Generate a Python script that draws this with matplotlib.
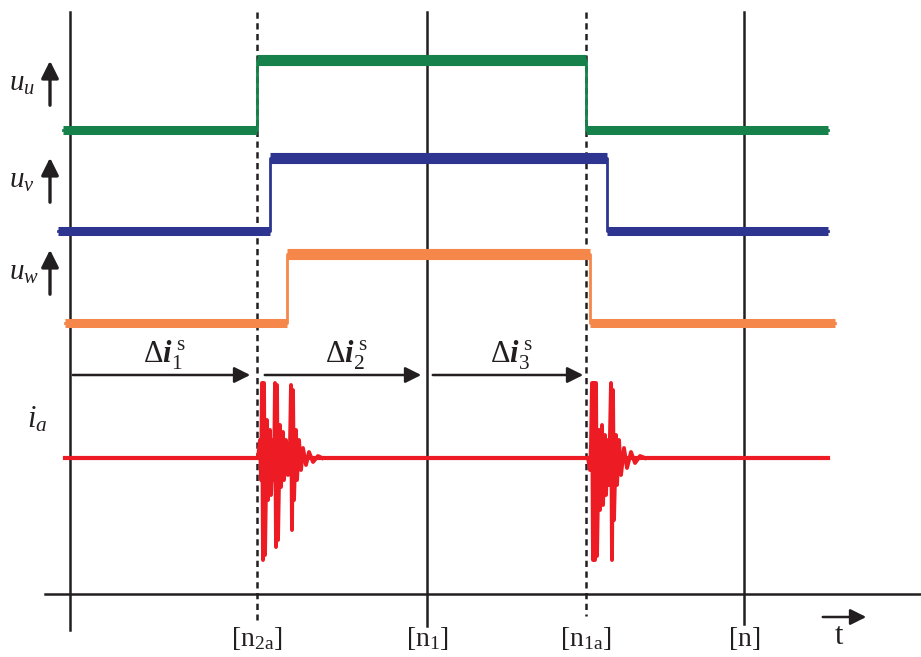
import matplotlib.pyplot as plt
import numpy as np

plt.rcParams['font.family'] = ['Liberation Serif', 'DejaVu Serif']
plt.rcParams['mathtext.fontset'] = 'custom'
plt.rcParams['mathtext.rm'] = 'Liberation Serif'
plt.rcParams['mathtext.it'] = 'Liberation Serif:italic'
plt.rcParams['mathtext.bf'] = 'Liberation Serif:bold:italic'

# phase voltages u, v, w: start, switch-on, switch-off, end time and low / high level
phase_names = ['u', 'v', 'w']
phase_colors = ['#16814a', '#2d3590', '#f5874a']
phase_start = [63, 58, 65]
phase_on = [257, 270, 287]
phase_off = [586, 607, 590]
phase_end = [828, 828, 835]
phase_low = [130, 231, 323]
phase_high = [60, 158, 254]

# phase current i_a: baseline and the two ringing bursts after switching
ia_start, ia_end, ia_level = 65, 828, 458
burst1_t = [258, 260, 261, 262, 263, 264, 265, 267, 268, 270, 271, 273, 274, 275, 276, 277,
            278, 280, 281, 283, 284, 286, 288, 290, 291, 292, 293, 294, 296, 297, 299, 301,
            303, 306, 309, 313, 318, 322]
burst1_v = [458, 440, 480, 383, 560, 383, 555, 420, 500, 430, 495, 440, 480, 383, 547, 385,
            540, 425, 487, 432, 480, 440, 475, 445, 385, 530, 390, 500, 430, 480, 440, 470,
            448, 465, 452, 462, 456, 458]
burst2_t = [588, 590, 591, 592, 593, 594, 595, 596, 597, 599, 600, 602, 603, 605, 606, 608,
            609, 611, 612, 613, 614, 616, 617, 619, 621, 624, 627, 631, 635, 640, 645]
burst2_v = [458, 470, 445, 383, 560, 383, 560, 383, 556, 430, 510, 425, 505, 435, 495, 440,
            485, 383, 560, 390, 520, 435, 485, 440, 475, 448, 468, 452, 463, 456, 458]

# sampling instants on the time axis
solid_t = [70, 427, 744]
dashed_t = [257, 586]
sample_labels = {257: r'$[\mathrm{n}_{2\mathrm{a}}]$', 427: r'$[\mathrm{n}_{1}]$',
                 586: r'$[\mathrm{n}_{1\mathrm{a}}]$', 744: r'$[\mathrm{n}]$'}
delta_spans = [(70, 253), (262, 424), (430, 586)]

ink = '#231f20'

fig = plt.figure(figsize=(9.21, 6.57), dpi=100)
ax = fig.add_axes([0, 0, 1, 1])
ax.set_xlim(0, 921)
ax.set_ylim(657, 0)
ax.axis('off')

# vertical sampling lines
line_bottom = {70: 630, 427: 626, 744: 624, 257: 620, 586: 616}
for t in solid_t:
    ax.plot([t, t], [12, line_bottom[t]], color=ink, lw=1.8, zorder=1)
for t in dashed_t:
    ax.plot([t, t], [12, line_bottom[t]], color=ink, lw=1.8, ls=(0, (2.5, 1.8)), zorder=1)

# time axis
ax.plot([45, 921], [594, 594], color=ink, lw=1.8)
ax.annotate('', xy=(869, 617), xytext=(820, 617),
            arrowprops=dict(arrowstyle='-|>', color=ink, lw=1.8, mutation_scale=24))
ax.text(839, 636, 't', fontsize=22, ha='center', va='center', color=ink)
for t, lab in sample_labels.items():
    ax.text(t, 639, lab, fontsize=20, ha='center', va='center', color=ink)

# phase voltage steps
for i in range(3):
    tt = [phase_start[i], phase_on[i], phase_on[i], phase_off[i], phase_off[i], phase_end[i]]
    vv = [phase_low[i], phase_low[i], phase_high[i], phase_high[i], phase_low[i], phase_low[i]]
    ax.plot(tt, vv, color=phase_colors[i], lw=2.0, zorder=3)
    ax.plot([phase_start[i], phase_on[i]], [phase_low[i]] * 2, color=phase_colors[i], lw=6.5,
            solid_capstyle='butt', zorder=3)
    ax.plot([phase_on[i], phase_off[i]], [phase_high[i]] * 2, color=phase_colors[i], lw=8,
            solid_capstyle='butt', zorder=3)
    ax.plot([phase_off[i], phase_end[i]], [phase_low[i]] * 2, color=phase_colors[i], lw=6.5,
            solid_capstyle='butt', zorder=3)
    # label with up arrow
    top = phase_high[i] - 2 if i == 0 else phase_low[i] - 76
    ax.annotate('', xy=(50, top), xytext=(50, top + 50),
                arrowprops=dict(arrowstyle='-|>', color=ink, lw=2.4, mutation_scale=26))
    ax.text(9, top + 26, r'$u_{%s}$' % phase_names[i], fontsize=21, ha='left', va='center',
            color=ink)

# phase current
ax.plot([ia_start, ia_end], [ia_level, ia_level], color='#ed1c24', lw=3, zorder=3)
ax.plot(burst1_t, burst1_v, color='#ed1c24', lw=2.8, zorder=3)
ax.plot(burst2_t, burst2_v, color='#ed1c24', lw=2.8, zorder=3)
ax.text(27, 420, r'$i_{a}$', fontsize=22, ha='left', va='center', color=ink)

# current change intervals
for k, (a, b) in enumerate(delta_spans):
    ax.annotate('', xy=(b, 375), xytext=(a, 375),
                arrowprops=dict(arrowstyle='-|>', color=ink, lw=1.8, mutation_scale=24))
    ax.text((a + b) / 2 + 3, 355, r'$\Delta\mathbf{i}_{%d}^{\ \mathrm{s}}$' % (k + 1),
            fontsize=22, ha='center', va='center', color=ink)

fig.savefig('out.png', dpi=100)
